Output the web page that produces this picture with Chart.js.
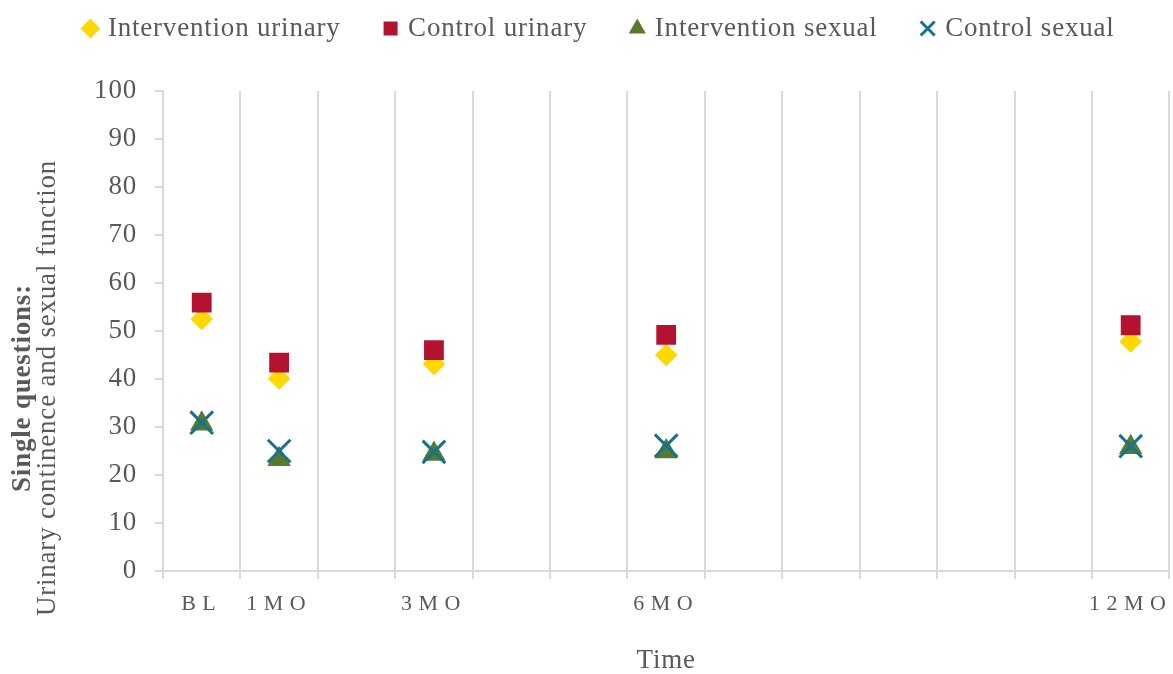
<!DOCTYPE html>
<html>
<head>
<meta charset="utf-8">
<script src="https://cdn.jsdelivr.net/npm/chart.js@4.4.1/dist/chart.umd.min.js"></script>
<style>
  html, body { margin: 0; padding: 0; background: #fff; }
  #wrap { width: 1173px; height: 674px; }
</style>
</head>
<body>
<div id="wrap"><canvas id="chart" width="1173" height="674"></canvas></div>
<script>
// one category slot per month after baseline
const monthLabels = ['BL', '1MO', '', '3MO', '', '', '6MO', '', '', '', '', '', '12MO'];
const visitSlots = [0, 1, 3, 6, 12];

const interventionUrinary = [52.5, 40.1, 43.1, 45.0, 47.8];
const controlUrinary      = [55.9, 43.4, 46.0, 49.2, 51.2];
const interventionSexual  = [30.7, 23.3, 24.4, 24.9, 25.8];
const controlSexual       = [30.9, 25.0, 24.8, 26.1, 26.0];

const yTitleBold = 'Single questions:';
const yTitleText = 'Urinary continence and sexual function';
const xTitleText = 'Time';

const TEXT = '#595959';
const GRID = '#d9d9d9';

// spread the 5 visits over the 13 month slots
function toSlots(values) {
    const out = monthLabels.map(() => null);
    visitSlots.forEach((slot, i) => { out[slot] = values[i]; });
    return out;
}

Chart.defaults.font.family = "'Liberation Serif', 'Times New Roman', serif";
Chart.defaults.color = TEXT;

// Excel text looks a bit wider than Times, so add a little tracking
const tracking = {
    id: 'tracking',
    beforeUpdate(chart) { chart.ctx.letterSpacing = '0.8px'; },
    beforeDraw(chart) { chart.ctx.letterSpacing = '0.8px'; }
};

// x tick labels are spaced out (B L, 1 M O)
const spacedTicks = {
    id: 'spacedTicks',
    afterLayout(chart) {
        const sc = chart.scales.x;
        if (sc._spaced) return;
        const base = sc.drawLabels;
        sc.drawLabels = function(area) {
            const ctx = this.ctx;
            ctx.save();
            ctx.letterSpacing = '6.5px';
            base.call(this, area);
            ctx.restore();
        };
        sc._spaced = true;
    }
};

// leave room between legend and plot
const legendGap = {
    id: 'legendGap',
    beforeLayout(chart) {
        const lg = chart.legend;
        if (!lg || lg._gap) return;
        const baseFit = lg.fit;
        lg.fit = function() {
            baseFit.call(this);
            this.height += 39;
        };
        lg._gap = true;
    }
};

// two-line y title, first line bold
const yTitle = {
    id: 'yTitle',
    afterDraw(chart) {
        const ctx = chart.ctx;
        ctx.save();
        ctx.fillStyle = TEXT;
        ctx.textAlign = 'center';
        ctx.textBaseline = 'middle';
        ctx.font = "bold 27px 'Liberation Serif', serif";
        ctx.translate(23, 388);
        ctx.rotate(-Math.PI / 2);
        ctx.fillText(yTitleBold, 0, 0);
        ctx.restore();

        ctx.save();
        ctx.fillStyle = TEXT;
        ctx.textAlign = 'center';
        ctx.textBaseline = 'middle';
        ctx.font = "27px 'Liberation Serif', serif";
        ctx.translate(48, 388);
        ctx.rotate(-Math.PI / 2);
        ctx.fillText(yTitleText, 0, 0);
        ctx.restore();
    }
};

new Chart(document.getElementById('chart'), {
    type: 'line',
    data: {
        labels: monthLabels,
        datasets: [{
            label: 'Intervention urinary',
            data: toSlots(interventionUrinary),
            showLine: false,
            pointStyle: 'rectRot',
            pointRadius: 11.3,
            pointBackgroundColor: '#FFD800',
            pointBorderColor: '#FFD800',
            pointBorderWidth: 0,
            backgroundColor: '#FFD800',
            borderColor: '#FFD800',
            order: 4
        }, {
            label: 'Control urinary',
            data: toSlots(controlUrinary),
            showLine: false,
            pointStyle: 'rect',
            pointRadius: 14,
            pointBackgroundColor: '#B31230',
            pointBorderColor: '#B31230',
            pointBorderWidth: 0,
            backgroundColor: '#B31230',
            borderColor: '#B31230',
            order: 3
        }, {
            label: 'Intervention sexual',
            data: toSlots(interventionSexual),
            showLine: false,
            pointStyle: 'triangle',
            pointRadius: 13.5,
            pointBackgroundColor: '#567A2E',
            pointBorderColor: '#567A2E',
            pointBorderWidth: 0,
            backgroundColor: '#567A2E',
            borderColor: '#567A2E',
            order: 2
        }, {
            label: 'Control sexual',
            data: toSlots(controlSexual),
            showLine: false,
            pointStyle: 'crossRot',
            pointRadius: 16,
            pointBackgroundColor: '#17728A',
            pointBorderColor: '#17728A',
            pointBorderWidth: 3,
            backgroundColor: '#17728A',
            borderColor: '#17728A',
            order: 1
        }]
    },
    options: {
        responsive: false,
        animation: false,
        events: [],
        layout: {
            autoPadding: false,
            padding: { top: -31, left: 26, right: -2, bottom: 0 }
        },
        plugins: {
            tooltip: { enabled: false },
            legend: {
                position: 'top',
                labels: {
                    usePointStyle: true,
                    boxWidth: 8,
                    boxHeight: 14,
                    padding: 46,
                    color: TEXT,
                    font: { size: 27 },
                    sort: (a, b) => a.datasetIndex - b.datasetIndex
                }
            }
        },
        scales: {
            x: {
                type: 'category',
                offset: true,
                afterFit(s) { s.height = 103; },
                grid: {
                    offset: true,
                    color: GRID,
                    lineWidth: 2,
                    tickLength: 8
                },
                border: { color: GRID, width: 2 },
                ticks: {
                    autoSkip: false,
                    maxRotation: 0,
                    padding: 12,
                    color: TEXT,
                    font: { size: 22 }
                },
                title: {
                    display: true,
                    text: xTitleText,
                    color: TEXT,
                    font: { size: 27, lineHeight: 1 },
                    padding: 0
                }
            },
            y: {
                min: 0,
                max: 100,
                afterFit(s) { s.width = 137; },
                grid: {
                    drawOnChartArea: false,
                    color: GRID,
                    lineWidth: 2,
                    tickLength: 8
                },
                border: { color: GRID, width: 2 },
                ticks: {
                    stepSize: 10,
                    padding: 18,
                    color: TEXT,
                    font: { size: 27 }
                }
            }
        }
    },
    plugins: [tracking, spacedTicks, legendGap, yTitle]
});
</script>
</body>
</html>
